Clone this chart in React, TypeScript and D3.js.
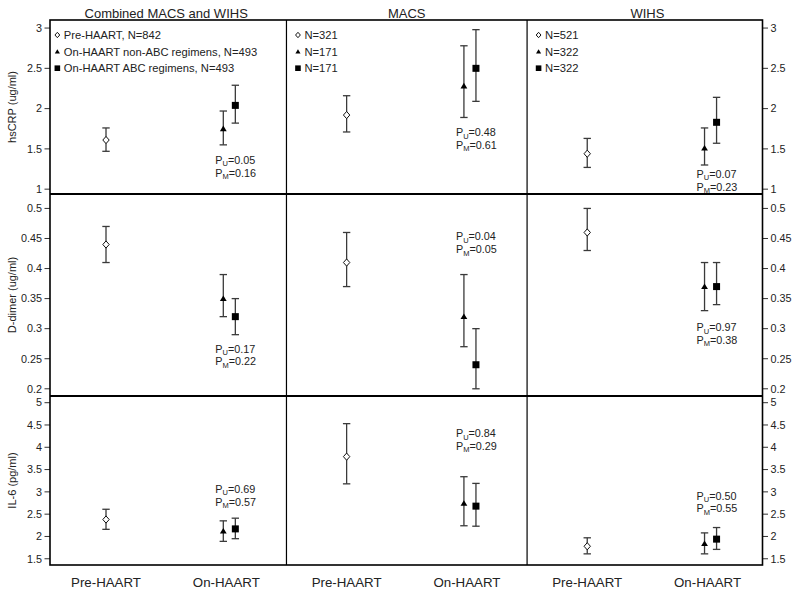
import React from "react";
import * as d3 from "d3";

// ---- data ----
const columnTitles = ["Combined MACS and WIHS", "MACS", "WIHS"];
const groupLabels = ["Pre-HAART", "On-HAART"];
const seriesNames = ["Pre-HAART", "On-HAART non-ABC regimens", "On-HAART ABC regimens"];
const legendN = [
  [842, 493, 493],
  [321, 171, 171],
  [521, 322, 322],
];
const rowTitles = ["hsCRP (ug/ml)", "D-dimer (ug/ml)", "IL-6 (pg/ml)"];
const hsCRPTicks = [1, 1.5, 2, 2.5, 3];
const dDimerTicks = [0.2, 0.25, 0.3, 0.35, 0.4, 0.45, 0.5];
const il6Ticks = [1.5, 2, 2.5, 3, 3.5, 4, 4.5, 5];
const hsCRPDomain = [0.94, 3.1];
const dDimerDomain = [0.188, 0.524];
const il6Domain = [1.36, 5.15];

// [column][series]
const hsCRPMean = [[1.61, 1.75, 2.04], [1.92, 2.28, 2.5], [1.44, 1.51, 1.83]];
const hsCRPLow = [[1.47, 1.55, 1.82], [1.71, 1.89, 2.09], [1.27, 1.3, 1.57]];
const hsCRPHigh = [[1.76, 1.97, 2.29], [2.16, 2.78, 2.98], [1.63, 1.76, 2.14]];

const dDimerMean = [[0.44, 0.35, 0.32], [0.41, 0.32, 0.24], [0.46, 0.37, 0.37]];
const dDimerLow = [[0.41, 0.32, 0.29], [0.37, 0.27, 0.2], [0.43, 0.33, 0.34]];
const dDimerHigh = [[0.47, 0.39, 0.35], [0.46, 0.39, 0.3], [0.5, 0.41, 0.41]];

const il6Mean = [[2.38, 2.12, 2.17], [3.79, 2.74, 2.68], [1.78, 1.84, 1.94]];
const il6Low = [[2.16, 1.89, 1.95], [3.18, 2.24, 2.23], [1.61, 1.61, 1.71]];
const il6High = [[2.61, 2.35, 2.41], [4.53, 3.34, 3.19], [1.97, 2.08, 2.2]];

const hsCRPPU = ["0.05", "0.48", "0.07"];
const hsCRPPM = ["0.16", "0.61", "0.23"];
const hsCRPPAt = [1.36, 1.705, 1.186];
const dDimerPU = ["0.17", "0.04", "0.97"];
const dDimerPM = ["0.22", "0.05", "0.38"];
const dDimerPAt = [0.266, 0.453, 0.302];
const il6PU = ["0.69", "0.84", "0.50"];
const il6PM = ["0.57", "0.29", "0.55"];
const il6PAt = [3.06, 4.31, 2.91];

// ---- layout ----
const W = 800;
const H = 597;
const frameLeft = 50;
const frameRight = 762.5;
const rowBands = [
  [20, 194],
  [194, 396],
  [396, 565],
];
const FONT = "'Liberation Sans', Arial, Helvetica, sans-serif";
const TEXT = "#222";

const rows = [
  { title: rowTitles[0], ticks: hsCRPTicks, domain: hsCRPDomain, mean: hsCRPMean, low: hsCRPLow, high: hsCRPHigh, pu: hsCRPPU, pm: hsCRPPM, pAt: hsCRPPAt },
  { title: rowTitles[1], ticks: dDimerTicks, domain: dDimerDomain, mean: dDimerMean, low: dDimerLow, high: dDimerHigh, pu: dDimerPU, pm: dDimerPM, pAt: dDimerPAt },
  { title: rowTitles[2], ticks: il6Ticks, domain: il6Domain, mean: il6Mean, low: il6Low, high: il6High, pu: il6PU, pm: il6PM, pAt: il6PAt },
];

// slot positions: column k spans [2k, 2k+2]
const x = d3.scaleLinear().domain([0, 6]).range([45.85, 767.7]);
const groupSlot = [0.5, 1.5];
const seriesGroup = [0, 1, 1];
const seriesOffset = [0, -0.025, 0.075];

function marker(kind: number, cx: number, cy: number, big: boolean, key: string) {
  const s = big ? 1 : 0.75;
  if (kind === 0) {
    const h = 3.6 * s;
    const w = 3.2 * s;
    return (
      <path key={key} d={`M${cx},${cy - h}L${cx + w},${cy}L${cx},${cy + h}L${cx - w},${cy}Z`} fill="#fff" stroke="#111" strokeWidth={1} />
    );
  }
  if (kind === 1) {
    const w = 3.4 * s;
    const h = 3.2 * s;
    return <path key={key} d={`M${cx},${cy - h}L${cx + w},${cy + h * 0.75}L${cx - w},${cy + h * 0.75}Z`} fill="#000" />;
  }
  const a = (big ? 7 : 5.6);
  return <rect key={key} x={cx - a / 2} y={cy - a / 2} width={a} height={a} fill="#000" />;
}

export default function App() {
  return (
    <svg width={W} height={H} style={{ position: "absolute", left: 0, top: 0, display: "block", background: "#fff" }} fontFamily={FONT}>
      <rect x={0} y={0} width={W} height={H} fill="#fff" />
      {/* column titles */}
      {columnTitles.map((t, k) => (
        <text key={"ct" + k} x={x(2 * k + 1)} y={17.5} textAnchor="middle" fontSize={13} fill={TEXT}>
          {t}
        </text>
      ))}

      {rows.map((row, r) => {
        const [top, bottom] = rowBands[r];
        const y = d3.scaleLinear().domain(row.domain).range([bottom, top]);
        return (
          <g key={"row" + r}>
            {/* y title */}
            <text
              transform={`translate(12,${(top + bottom) / 2}) rotate(-90)`}
              textAnchor="middle"
              dy="0.35em"
              fontSize={11}
              fill={TEXT}
            >
              {row.title}
            </text>
            {/* ticks */}
            {row.ticks.map((t, i) => (
              <g key={"t" + i}>
                <line x1={frameLeft - 5.5} x2={frameLeft} y1={y(t)} y2={y(t)} stroke="#333" strokeWidth={1} />
                <text x={frameLeft - 8} y={y(t)} dy="0.35em" textAnchor="end" fontSize={10.8} fill={TEXT}>
                  {t}
                </text>
                <line x1={frameRight} x2={frameRight + 5.5} y1={y(t)} y2={y(t)} stroke="#333" strokeWidth={1} />
                <text x={frameRight + 8} y={y(t)} dy="0.35em" textAnchor="start" fontSize={10.8} fill={TEXT}>
                  {t}
                </text>
              </g>
            ))}
            {/* data */}
            {columnTitles.map((_, k) => (
              <g key={"c" + k}>
                {seriesNames.map((_, s) => {
                  const cx = x(2 * k + groupSlot[seriesGroup[s]] + seriesOffset[s]);
                  const yl = y(row.low[k][s]);
                  const yh = y(row.high[k][s]);
                  const ym = y(row.mean[k][s]);
                  return (
                    <g key={"s" + s}>
                      <line x1={cx} x2={cx} y1={yl} y2={yh} stroke="#3a3a3a" strokeWidth={1.3} />
                      <line x1={cx - 3.7} x2={cx + 3.7} y1={yl} y2={yl} stroke="#3a3a3a" strokeWidth={1.3} />
                      <line x1={cx - 3.7} x2={cx + 3.7} y1={yh} y2={yh} stroke="#3a3a3a" strokeWidth={1.3} />
                      {marker(s, cx, ym, true, "m")}
                    </g>
                  );
                })}
                {/* p-values */}
                <text x={x(2 * k + groupSlot[1]) - 11} y={y(row.pAt[k])} dy="0.35em" fontSize={10.8} fill={TEXT}>
                  P<tspan fontSize={7.5} dy={2.5}>U</tspan>
                  <tspan dy={-2.5}>={row.pu[k]}</tspan>
                </text>
                <text x={x(2 * k + groupSlot[1]) - 11} y={y(row.pAt[k]) + 12.6} dy="0.35em" fontSize={10.8} fill={TEXT}>
                  P<tspan fontSize={7.5} dy={2.5}>M</tspan>
                  <tspan dy={-2.5}>={row.pm[k]}</tspan>
                </text>
              </g>
            ))}
          </g>
        );
      })}

      {/* legends */}
      {columnTitles.map((_, k) => (
        <g key={"lg" + k}>
          {seriesNames.map((name, s) => {
            const mx = x(2 * k) + 11.5;
            const my = 35 + s * 16.6;
            const label = k === 0 ? `${name}, N=${legendN[k][s]}` : `N=${legendN[k][s]}`;
            return (
              <g key={"li" + s}>
                {marker(s, mx, my, false, "lm")}
                <text x={mx + 6.5} y={my} dy="0.35em" fontSize={11.2} fill={TEXT}>
                  {label}
                </text>
              </g>
            );
          })}
        </g>
      ))}

      {/* x labels */}
      {columnTitles.map((_, k) =>
        groupLabels.map((g, i) => (
          <text key={"xl" + k + i} x={x(2 * k + groupSlot[i])} y={582.7} dy="0.35em" textAnchor="middle" fontSize={13.3} fill={TEXT}>
            {g}
          </text>
        ))
      )}

      {/* frame */}
      <rect x={frameLeft} y={rowBands[0][0]} width={frameRight - frameLeft} height={rowBands[2][1] - rowBands[0][0]} fill="none" stroke="#000" strokeWidth={1.6} />
      {[1, 2].map((i) => (
        <line key={"rd" + i} x1={frameLeft} x2={frameRight} y1={rowBands[i][0]} y2={rowBands[i][0]} stroke="#000" strokeWidth={2} />
      ))}
      {[1, 2].map((k) => (
        <line key={"cd" + k} x1={x(2 * k)} x2={x(2 * k)} y1={rowBands[0][0]} y2={rowBands[2][1]} stroke="#000" strokeWidth={1.2} />
      ))}
    </svg>
  );
}
